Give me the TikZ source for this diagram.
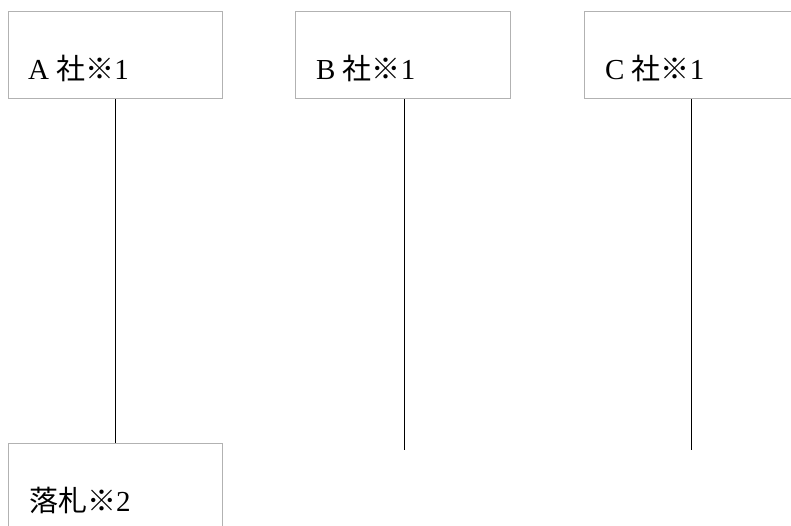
\documentclass[tikz,border=0pt]{standalone}
\usepackage{fontspec}
\setmainfont{Liberation Serif}
\newfontfamily\jp{Noto Sans CJK JP}
\begin{document}
\begin{tikzpicture}[x=1pt,y=-1pt,
  box/.style={draw=black!30,line width=1.2pt,fill=white,rectangle,minimum width=214pt,minimum height=87pt,inner sep=0pt,anchor=north west},
  lbl/.style={anchor=base west,inner sep=0pt,font=\fontsize{29}{33}\selectfont},
  conn/.style={draw=black,line width=1pt}]
\useasboundingbox (0,0) rectangle (791,526);
\clip (0,0) rectangle (791,526);
\node[box] (A) at (8,11) {};
\node[box,minimum width=215pt] (B) at (295,11) {};
\node[box] (C) at (584,11) {};
\node[box] (D) at (8,443) {};
\coordinate (Bend) at (404,450);
\coordinate (Cend) at (691,450);
\node[lbl] (At) at (28,80) {A {\jp 社※}1};
\node[lbl] (Bt) at (316,80) {B {\jp 社※}1};
\node[lbl] (Ct) at (605,80) {C {\jp 社※}1};
\node[lbl] (Dt) at (29,511) {{\jp 落札※}2};
\draw[conn] (A.south) -- (D.north);
\draw[conn] (B.south -| Bend) -- (Bend);
\draw[conn] (C.south -| Cend) -- (Cend);
\end{tikzpicture}
\end{document}
